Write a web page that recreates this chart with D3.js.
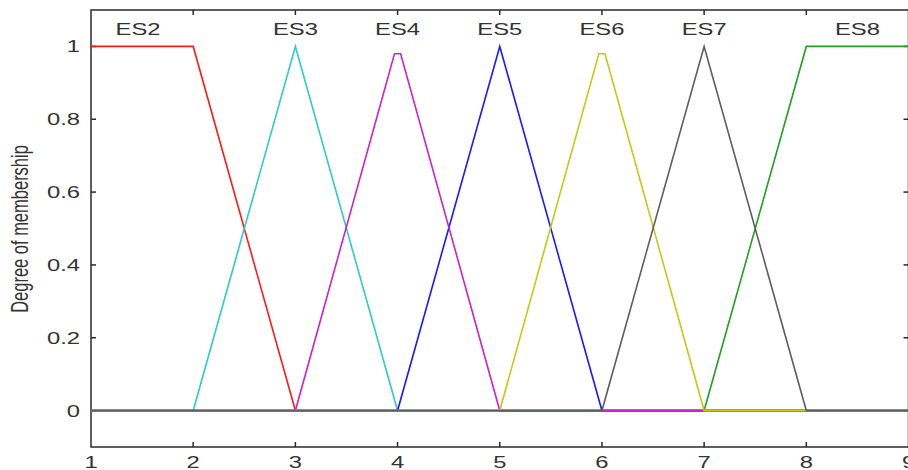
<!DOCTYPE html>
<html>
<head>
<meta charset="utf-8">
<script src="https://cdn.jsdelivr.net/npm/d3@7.9.0/dist/d3.min.js"></script>
<style>
  body { margin: 0; background: #fff; }
  svg { display: block; }
  text { font-family: "Liberation Sans", Arial, sans-serif; fill: #333; }
</style>
</head>
<body>
<div id="chart"></div>
<script>
// tick values
const xTicks = [1, 2, 3, 4, 5, 6, 7, 8, 9];
const yTicks = [0, 0.2, 0.4, 0.6, 0.8, 1];
const yTickLabels = ["0", "0.2", "0.4", "0.6", "0.8", "1"];

// membership functions, [x, degree] break points over the whole range
const es2 = [[1, 1], [2, 1], [3, 0], [9, 0]];
const es3 = [[1, 0], [2, 0], [3, 1], [4, 0], [9, 0]];
const es4 = [[1, 0], [3, 0], [3.97, 0.98], [4.03, 0.98], [5, 0], [9, 0]];
const es5 = [[1, 0], [4, 0], [5, 1], [6, 0], [9, 0]];
const es6 = [[1, 0], [5, 0], [5.97, 0.98], [6.03, 0.98], [7, 0], [9, 0]];
const es7 = [[1, 0], [6, 0], [7, 1], [8, 0], [9, 0]];
const es8 = [[1, 0], [7, 0], [8, 1], [9, 1]];

// label names and where they sit on the x axis
const mfNames = ["ES2", "ES3", "ES4", "ES5", "ES6", "ES7", "ES8"];
const mfLabelX = [1.46, 3, 4, 5, 6, 7, 8.5];

// colours (matlab style)
const colors = {
    ES2: "#ff1a1a", ES3: "#2ccccc", ES4: "#cc22cc", ES5: "#1a1aff",
    ES6: "#c8c814", ES7: "#5f5f5f", ES8: "#22a022"
};

// drawing order decides which colour is on top along the zero line
const drawOrder = [
    {name: "ES2", pts: es2}, {name: "ES3", pts: es3}, {name: "ES5", pts: es5},
    {name: "ES8", pts: es8}, {name: "ES4", pts: es4}, {name: "ES6", pts: es6},
    {name: "ES7", pts: es7}
];

const W = 908, H = 470;
const stretch = 1.4;   // the original picture is stretched sideways

const svg = d3.select("#chart").append("svg")
    .attr("width", W).attr("height", H);

const x = d3.scaleLinear().domain([1, 9]).range([91, 908.5]);
const y = d3.scaleLinear().domain([-0.1, 1.1]).range([447, 10]);

// axes box
svg.append("rect")
    .attr("x", x(1)).attr("y", y(1.1))
    .attr("width", x(9) - x(1)).attr("height", y(-0.1) - y(1.1))
    .attr("fill", "none").attr("stroke", "#2a2a2a").attr("stroke-width", 1.5);

// ticks, pointing inwards
const tl = 5;
svg.append("g").selectAll("line").data(xTicks.slice(1, -1)).join("line")
    .attr("x1", d => x(d)).attr("x2", d => x(d))
    .attr("y1", y(-0.1)).attr("y2", y(-0.1) - tl)
    .attr("stroke", "#2a2a2a").attr("stroke-width", 1.5);
svg.append("g").selectAll("line").data(xTicks.slice(1, -1)).join("line")
    .attr("x1", d => x(d)).attr("x2", d => x(d))
    .attr("y1", y(1.1)).attr("y2", y(1.1) + tl)
    .attr("stroke", "#2a2a2a").attr("stroke-width", 1.5);
svg.append("g").selectAll("line").data(yTicks).join("line")
    .attr("x1", x(1)).attr("x2", x(1) + tl)
    .attr("y1", d => y(d)).attr("y2", d => y(d))
    .attr("stroke", "#2a2a2a").attr("stroke-width", 1.5);
svg.append("g").selectAll("line").data(yTicks).join("line")
    .attr("x1", x(9)).attr("x2", x(9) - tl)
    .attr("y1", d => y(d)).attr("y2", d => y(d))
    .attr("stroke", "#2a2a2a").attr("stroke-width", 1.5);

// tick labels
svg.append("g").selectAll("text").data(xTicks).join("text")
    .attr("transform", d => "translate(" + x(d) + ",468) scale(" + stretch + ",1)")
    .attr("text-anchor", "middle")
    .attr("font-size", 17)
    .text(d => d);
svg.append("g").selectAll("text").data(yTicks).join("text")
    .attr("transform", d => "translate(80," + (y(d) + 6) + ") scale(" + stretch + ",1)")
    .attr("text-anchor", "end")
    .attr("font-size", 17)
    .text((d, i) => yTickLabels[i]);

// y axis title
svg.append("text")
    .attr("transform", "translate(28,229) scale(" + stretch + ",1) rotate(-90)")
    .attr("text-anchor", "middle")
    .attr("font-size", 16.5)
    .text("Degree of membership");

// membership function lines
const line = d3.line().x(d => x(d[0])).y(d => y(d[1]));
svg.append("g").selectAll("path").data(drawOrder).join("path")
    .attr("d", d => line(d.pts))
    .attr("fill", "none")
    .attr("stroke", d => colors[d.name])
    .attr("stroke-width", 1.6);

// names above the peaks
svg.append("g").selectAll("text").data(mfNames).join("text")
    .attr("transform", (d, i) => "translate(" + x(mfLabelX[i]) + ",35) scale(" + stretch + ",1)")
    .attr("text-anchor", "middle")
    .attr("font-size", 17)
    .text(d => d);
</script>
</body>
</html>
